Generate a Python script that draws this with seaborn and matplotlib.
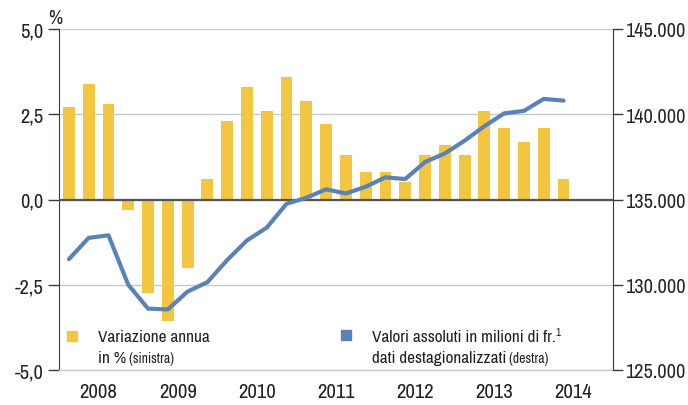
import numpy as np
import pandas as pd
import matplotlib
matplotlib.use("Agg")
import matplotlib.pyplot as plt
import matplotlib.transforms as mtransforms
from matplotlib import font_manager
from matplotlib.patches import Rectangle
import seaborn as sns

# quarterly data, 2008 Q1 - 2014 Q2
years = [2008, 2009, 2010, 2011, 2012, 2013, 2014]
quarters = [f"{y} Q{q}" for y in years for q in range(1, 5)][:26]
var_pct = [2.7, 3.4, 2.8, -0.3,
           -2.75, -3.55, -2.0, 0.6,
           2.3, 3.3, 2.6, 3.6,
           2.9, 2.2, 1.3, 0.8,
           0.8, 0.5, 1.3, 1.6,
           1.3, 2.6, 2.1, 1.7,
           2.1, 0.6]
level_mio = [131500, 132750, 132900, 130000,
             128600, 128550, 129600, 130150,
             131450, 132600, 133350, 134750,
             135100, 135600, 135350, 135750,
             136300, 136200, 137200, 137700,
             138450, 139300, 140050, 140200,
             140900, 140800]
left_ticks = [-5.0, -2.5, 0.0, 2.5, 5.0]
right_ticks = [125000, 130000, 135000, 140000, 145000]

YELLOW = "#F2C641"
BLUE = "#5B82B6"
DARK = "#3a3a3a"
GRID = "#c8c8c8"

df = pd.DataFrame({"quarter": quarters, "var": var_pct, "level": level_mio})
df["pos"] = np.arange(len(df))

sns.set_style("white")


# pick the narrowest regular face around (reference uses a condensed grotesque)
def narrow_rank(f):
    if f.style != "normal" or f.weight not in (400, "normal", "regular"):
        return None
    n = f.name
    if "Narrow" in n:
        return 0
    if ("Condensed" in n and "Semi" not in n and "Extra" not in n and "Ultra" not in n) \
            or f.stretch == "condensed":
        return 1
    if "SemiCondensed" in n or "Semi Condensed" in n or f.stretch == "semi-condensed":
        return 2
    return None


cands = [(narrow_rank(f), f) for f in font_manager.fontManager.ttflist]
cands = sorted([c for c in cands if c[0] is not None], key=lambda c: c[0])
if cands:
    face = cands[0][1]
    plt.rcParams["font.family"] = [face.name, "DejaVu Sans"]
    plt.rcParams["font.stretch"] = face.stretch
else:
    plt.rcParams["font.family"] = ["Liberation Sans", "DejaVu Sans"]
plt.rcParams["text.color"] = "#222222"

fig = plt.figure(figsize=(6.88, 4.06), dpi=100)
renderer = fig.canvas.get_renderer()


def fit_size(sample, base, target_px):
    t = fig.text(0, 0, sample, fontsize=base)
    w = t.get_window_extent(renderer).width
    t.remove()
    return base * min(1.0, target_px / w)


fs_right = fit_size("145.000", 15, 61)
fs_left = fit_size("-2,5", 15, 29)
fs_year = fit_size("2008", 15, 38)
fs_leg = fit_size("Variazione annua", 13, 112)
fs_small = fs_leg * 0.8

ax = fig.add_axes([59 / 688, 35 / 406, 554 / 688, 341 / 406])

sns.barplot(data=df, x="pos", y="var", native_scale=True, width=0.6,
            color=YELLOW, saturation=1, linewidth=0, ax=ax, zorder=2)
ax.axhline(0, color="#555555", lw=1.6, zorder=3)

n_slots = len(years) * 4
ax.set_xlim(-0.5, n_slots - 0.5)
ax.set_ylim(-5, 5)
ax.set_yticks(left_ticks)
ax.set_yticklabels([f"{v:.1f}".replace(".", ",") for v in left_ticks], fontsize=fs_left)
ax.yaxis.grid(True, color=GRID, lw=1)
ax.set_axisbelow(True)
ax.set_xlabel("")
ax.set_ylabel("")

# year separators (long) and quarter ticks (short)
ax.set_xticks(np.arange(-0.5, n_slots, 4))
ax.set_xticklabels([])
ax.set_xticks([b for b in np.arange(0.5, n_slots - 0.5, 1) if (b + 0.5) % 4 != 0], minor=True)
ax.tick_params(axis="x", which="major", length=25, width=1, color="#666666", direction="out")
ax.tick_params(axis="x", which="minor", length=7, width=1, color="#666666", direction="out")
ax.tick_params(axis="y", length=8, width=1, color=DARK, colors="#222222", pad=3)
for s in ["top", "right"]:
    ax.spines[s].set_visible(False)
ax.spines["left"].set_color(DARK)
ax.spines["bottom"].set_color(GRID)
ax.spines["bottom"].set_linewidth(1)

trans = mtransforms.blended_transform_factory(ax.transData, ax.transAxes)
for i, y in enumerate(years):
    ax.text(i * 4 + 1.5, -0.064, str(y), transform=trans, ha="center", va="center", fontsize=fs_year)

# right axis: absolute values
ax2 = ax.twinx()
sns.lineplot(data=df, x="pos", y="level", color=BLUE, linewidth=3, ax=ax2, zorder=4)
ax2.set_ylim(right_ticks[0], right_ticks[-1])
ax2.set_yticks(right_ticks)
ax2.set_yticklabels([f"{v:,}".replace(",", ".") for v in right_ticks], fontsize=fs_right)
ax2.set_xlim(-0.5, n_slots - 0.5)
ax2.set_ylabel("")
ax2.set_xlabel("")
ax2.tick_params(axis="y", length=7, width=1, color=DARK, pad=2)
for s in ["top", "left", "bottom"]:
    ax2.spines[s].set_visible(False)
ax2.spines["right"].set_color(DARK)

fig.text(55 / 688, 1 - 18 / 406, "%", ha="center", va="center", fontsize=fs_left * 0.95)

# legend, drawn by hand (two lines, mixed sizes)
sq_w, sq_h = 10 / 554, 10 / 341
ax2.add_patch(Rectangle((0.0235 - sq_w / 2, 0.0997 - sq_h / 2), sq_w, sq_h,
                        transform=ax2.transAxes, color=YELLOW, clip_on=False))
ax2.add_patch(Rectangle((0.518 - sq_w / 2, 0.1026 - sq_h / 2), sq_w, sq_h,
                        transform=ax2.transAxes, color=BLUE, clip_on=False))

t1 = ax2.text(0.0704, 0.0997, "Variazione annua", transform=ax2.transAxes,
              ha="left", va="center", fontsize=fs_leg)
t2 = ax2.text(0.0704, 0.038, "in %", transform=ax2.transAxes,
              ha="left", va="center", fontsize=fs_leg)
ax2.annotate(" (sinistra)", xy=(1, 0), xycoords=t2, ha="left", va="bottom", fontsize=fs_small)

t3 = ax2.text(0.565, 0.0997, "Valori assoluti in milioni di fr.", transform=ax2.transAxes,
              ha="left", va="center", fontsize=fs_leg)
ax2.annotate("1", xy=(1.0, 1.1), xycoords=t3, ha="left", va="top", fontsize=fs_small * 0.8)
t4 = ax2.text(0.565, 0.038, "dati destagionalizzati", transform=ax2.transAxes,
              ha="left", va="center", fontsize=fs_leg)
ax2.annotate(" (destra)", xy=(1, 0), xycoords=t4, ha="left", va="bottom", fontsize=fs_small)

fig.savefig("out.png", dpi=100)
